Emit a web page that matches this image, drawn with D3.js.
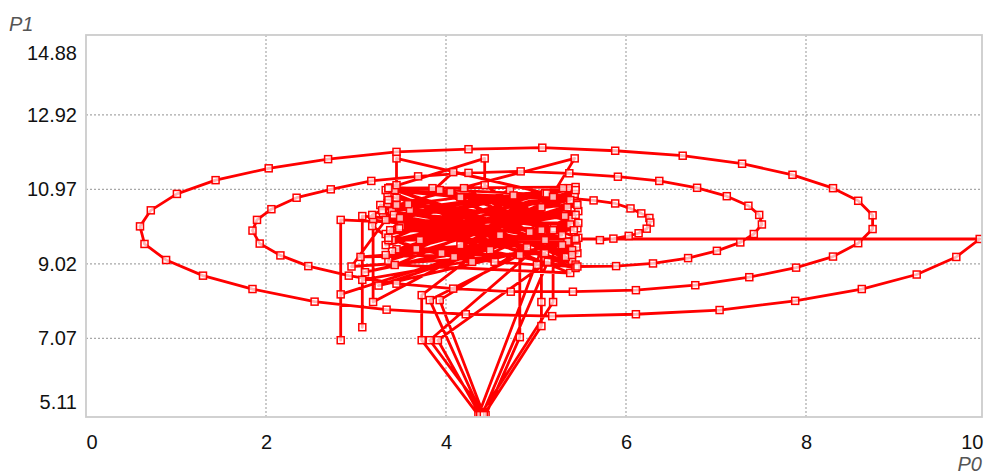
<!DOCTYPE html>
<html>
<head>
<meta charset="utf-8">
<script src="https://cdn.jsdelivr.net/npm/d3@7"></script>
<style>
body{margin:0;background:#fff}
text{font-family:"Liberation Sans",Arial,sans-serif}
</style>
</head>
<body>
<script>
const xTicks=[0,2,4,6,8,10]
const yTicks=[5.11,7.07,9.02,10.97,12.92,14.88]

// tangled part of the trajectory
const clusterP0=[3.35,5.45,3.40,5.36,3.33,5.47,3.45,5.42,3.38,5.40,3.50,5.45,3.36,5.30,3.42,5.46,3.85,5.40,3.35,5.44,
  4.05,5.47,3.40,5.35,3.33,4.90,3.48,5.43,3.95,5.38,3.30,5.45,4.20,5.33,3.45,5.46,3.10,5.20,3.25,5.35,
  3.05,5.10,2.95,
  3.45,5.43,4.93,3.36,5.44,3.33,5.38,3.43,5.40,3.93,5.47,3.33,5.10,4.08,3.38,5.32,3.71,5.44,3.43,5.38,
  3.36,5.44,4.16,5.46,3.33,5.29,4.43,4.43,3.36,3.45,3.45,5.12,3.49,4.49,3.27,5.42,2.83,2.83,2.83,5.06,
  3.07,3.07,3.07,5.29,3.19,3.19,4.60,3.73,3.73,4.36,5.10,3.82,4.44,4.82,4.82,3.82,4.40,5.13,3.91,4.38,
  5.19,5.19,3.93,4.42,5.06,5.06,5.06,3.40,4.29,5.44,3.60,5.40,4.71,3.36,5.44]
const clusterP1=[10.80,9.55,10.40,11.00,9.80,10.40,9.40,10.80,11.02,9.10,10.00,10.60,9.10,11.00,10.30,9.30,11.00,10.20,10.60,9.00,
  10.90,9.70,9.35,10.50,10.95,9.45,9.95,10.85,9.30,10.05,10.35,9.45,11.00,9.20,10.75,9.95,8.80,9.95,8.45,9.60,
  9.20,9.30,8.95,
  10.56,11.78,9.85,11.00,11.03,9.51,10.69,10.95,9.38,10.95,10.09,10.17,10.87,11.42,9.90,10.27,9.64,10.95,8.99,8.78,
  10.69,8.91,9.51,10.56,9.25,9.77,11.08,11.78,11.00,11.08,11.78,10.86,10.22,9.38,10.56,9.90,10.17,7.02,8.22,9.90,
  10.27,7.36,8.60,9.51,10.17,8.02,9.77,8.20,7.02,5.06,9.64,7.02,5.06,7.10,9.25,8.07,5.06,9.07,7.02,5.06,
  8.02,9.90,8.07,5.06,7.39,8.02,10.50,9.64,9.07,10.30,10.43,9.25,10.95,9.64,9.67]

// spiral part
const spiralP0=[9.93,9.67,9.23,8.62,7.88,7.04,6.11,5.18,4.22,3.34,2.54,1.85,1.30,0.89,0.65,0.60,0.72,1.01,1.44,2.03,
  2.69,3.45,4.25,5.07,5.88,6.63,7.29,7.85,8.30,8.58,8.74,8.74,8.58,8.30,7.89,7.37,6.77,6.11,5.41,4.72,
  4.08,3.45,2.92,2.47,2.16,1.93,1.85,1.90,2.06,2.34,2.72,3.17,3.69,4.25,4.83,5.37,5.91,6.37,6.79,7.12,
  7.36,7.48,7.51,7.42,7.27,7.01,6.69,6.30,5.89,5.46,5.01,4.54,4.09,3.67,3.36,3.18,3.18,3.29,3.58,4.16,
  4.75,5.19,5.64,5.88,6.05,6.17,6.26,6.27,6.23,6.14,6.03,5.86,5.71]
const spiralP1=[9.67,9.20,8.74,8.36,8.05,7.81,7.70,7.65,7.70,7.82,8.03,8.36,8.71,9.12,9.54,10.00,10.42,10.85,11.21,11.52,
  11.76,11.95,12.02,12.06,11.98,11.85,11.64,11.35,11.00,10.67,10.29,9.93,9.56,9.21,8.92,8.67,8.46,8.33,8.29,8.29,
  8.37,8.50,8.71,8.96,9.24,9.55,9.89,10.17,10.45,10.75,10.97,11.19,11.31,11.40,11.44,11.39,11.30,11.19,11.01,10.79,
  10.54,10.30,10.05,9.80,9.58,9.36,9.17,9.03,8.96,8.95,8.99,9.07,9.20,9.41,9.70,10.01,10.30,10.42,10.58,10.76,
  10.81,10.77,10.68,10.60,10.47,10.34,10.22,10.10,9.94,9.82,9.75,9.68,9.64]

const points=clusterP0.map((v,i)=>[v,clusterP1[i]])
  .concat(spiralP0.map((v,i)=>[v,spiralP1[i]]))

const width=984
const height=475
const pLeft=86, pRight=982, pTop=35, pBottom=417

const svg=d3.select('body').append('svg').attr('width',width).attr('height',height)
const xScale=d3.scaleLinear().domain([0,10]).range([pLeft,986])
const yScale=d3.scaleLinear().domain([5.01,15.01]).range([pBottom,pTop])

// grid
svg.append('g').selectAll('line').data(xTicks.filter(t=>t>0&&t<10)).enter().append('line')
  .attr('x1',d=>xScale(d)).attr('x2',d=>xScale(d))
  .attr('y1',pTop).attr('y2',pBottom)
  .attr('stroke','#a8a8a8').attr('stroke-width',1.2).attr('stroke-dasharray','2,2')
svg.append('g').selectAll('line').data(yTicks.slice(1,-1)).enter().append('line')
  .attr('y1',d=>yScale(d)).attr('y2',d=>yScale(d))
  .attr('x1',pLeft).attr('x2',pRight)
  .attr('stroke','#a8a8a8').attr('stroke-width',1.2).attr('stroke-dasharray','2,2')

// data
svg.append('clipPath').attr('id','plot').append('rect')
  .attr('x',pLeft).attr('y',pTop).attr('width',pRight-pLeft).attr('height',pBottom-pTop)
const plot=svg.append('g').attr('clip-path','url(#plot)')
const line=d3.line().x(d=>xScale(d[0])).y(d=>yScale(d[1]))
plot.append('path').datum(points).attr('d',line)
  .attr('fill','none').attr('stroke','#ff0000').attr('stroke-width',2.8).attr('stroke-linejoin','round')
plot.selectAll('rect.m').data(points).enter().append('rect').attr('class','m')
  .attr('x',d=>xScale(d[0])-3.5).attr('y',d=>yScale(d[1])-3.5)
  .attr('width',7).attr('height',7)
  .attr('fill','rgba(255,255,255,0.7)').attr('stroke','#ff0000').attr('stroke-width',1.5)

// frame
svg.append('rect').attr('x',pLeft).attr('y',pTop).attr('width',pRight-pLeft).attr('height',pBottom-pTop)
  .attr('fill','none').attr('stroke','#cccccc').attr('stroke-width',1.8)

// axes
const xAxis=d3.axisBottom(xScale).tickValues(xTicks).tickSize(0).tickPadding(18).tickFormat(d3.format('d'))
const gx=svg.append('g').attr('transform',`translate(0,${pBottom})`).call(xAxis)
gx.select('.domain').remove()
gx.selectAll('text').attr('font-size',20).attr('fill','#111').style('font-family','"Liberation Sans",Arial,sans-serif')
  .attr('text-anchor',d=>d===0?'start':d===10?'end':'middle')
  .attr('x',d=>d===10?-3:0)

const yAxis=d3.axisLeft(yScale).tickValues(yTicks).tickSize(0).tickPadding(9).tickFormat(d3.format('.2f'))
const gy=svg.append('g').attr('transform',`translate(${pLeft},0)`).call(yAxis)
gy.select('.domain').remove()
gy.selectAll('text').attr('font-size',20).attr('fill','#111').style('font-family','"Liberation Sans",Arial,sans-serif')
  .attr('y',d=>{const p=yScale(d);return Math.max(pTop+18,Math.min(pBottom-14.5,p))-p})

svg.append('text').attr('x',9).attr('y',31).text('P1')
  .attr('font-size',20).attr('font-style','italic').attr('fill','#555')
svg.append('text').attr('x',982).attr('y',471).attr('text-anchor','end').text('P0')
  .attr('font-size',20).attr('font-style','italic').attr('fill','#555')
</script>
</body>
</html>
